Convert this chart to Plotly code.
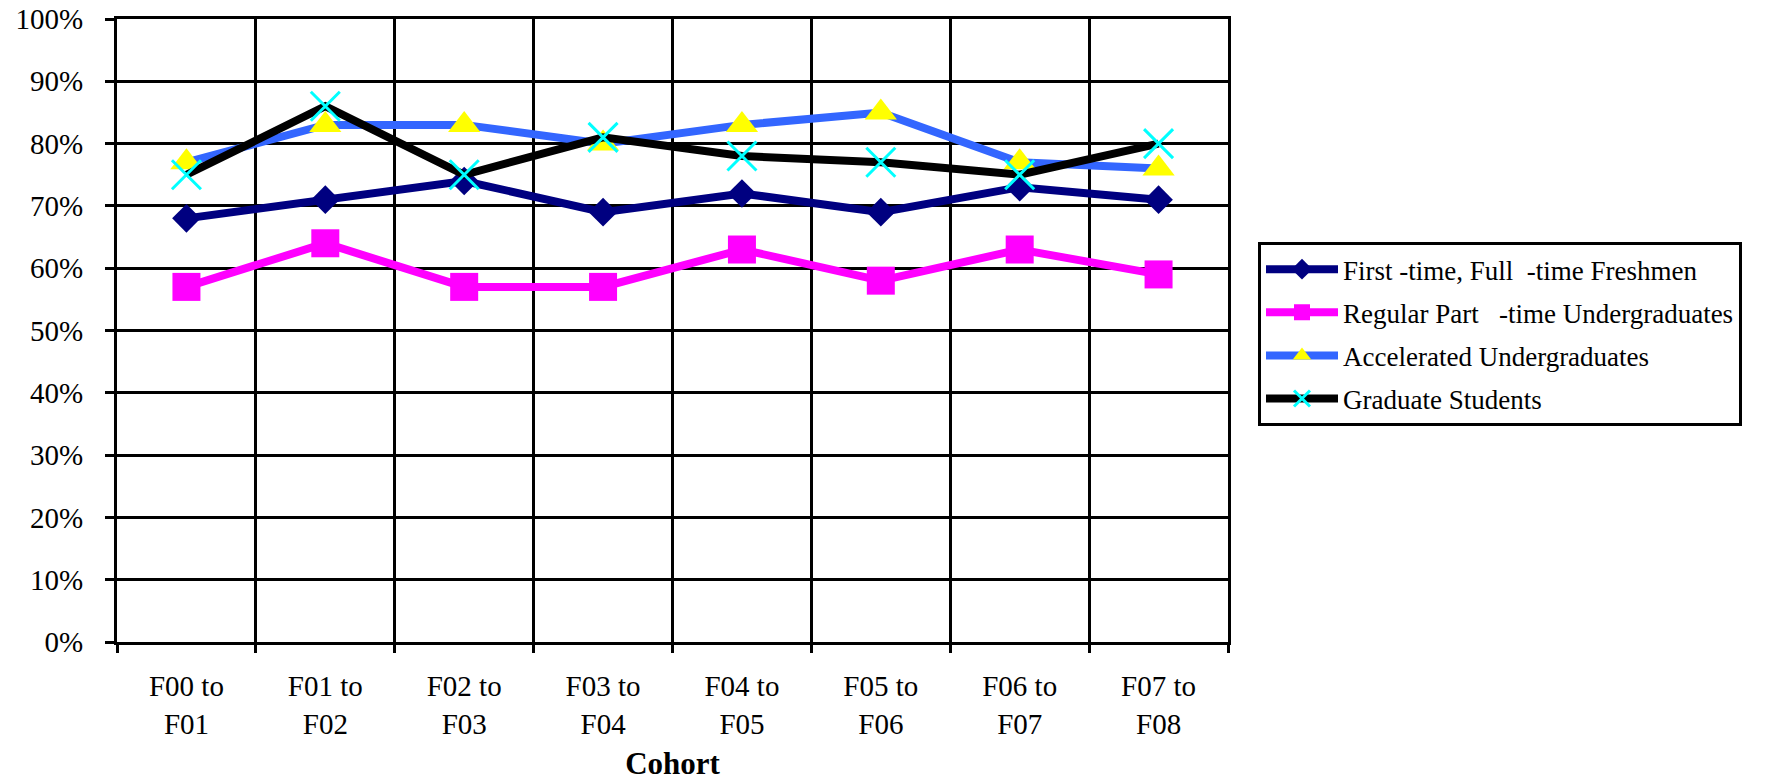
import plotly.graph_objects as go

categories = ["F00 to<br>F01", "F01 to<br>F02", "F02 to<br>F03", "F03 to<br>F04",
              "F04 to<br>F05", "F05 to<br>F06", "F06 to<br>F07", "F07 to<br>F08"]

freshmen = [68, 71, 74, 69, 72, 69, 73, 71]
part_time = [57, 64, 57, 57, 63, 58, 63, 59]
accelerated = [77, 83, 83, 80, 83, 85, 77, 76]
graduate = [75, 86, 75, 81, 78, 77, 75, 80]

y_ticks = [0, 10, 20, 30, 40, 50, 60, 70, 80, 90, 100]
y_tick_labels = ["0%", "10%", "20%", "30%", "40%", "50%", "60%", "70%", "80%", "90%", "100%"]

FONT = "Liberation Serif"

fig = go.Figure()

fig.add_trace(go.Scatter(
    x=categories, y=freshmen, mode="lines+markers",
    name="First -time, Full  -time Freshmen", legendgroup="a",
    line=dict(color="#000080", width=8),
    marker=dict(symbol="diamond", size=22, color="#000080", line=dict(width=0)),
))
fig.add_trace(go.Scatter(
    x=categories, y=part_time, mode="lines+markers",
    name="Regular Part   -time Undergraduates", legendgroup="b",
    line=dict(color="#FF00FF", width=8),
    marker=dict(symbol="square", size=28, color="#FF00FF", line=dict(width=0)),
))
fig.add_trace(go.Scatter(
    x=categories, y=accelerated, mode="lines+markers",
    name="Accelerated Undergraduates", legendgroup="c",
    line=dict(color="#3366FF", width=8),
    marker=dict(symbol="triangle-up", size=28, color="#FFFF00", line=dict(width=0)),
))
fig.add_trace(go.Scatter(
    x=categories, y=graduate, mode="lines+markers",
    name="Graduate Students", legendgroup="d",
    line=dict(color="#000000", width=8),
    marker=dict(symbol="x-thin", size=29, color="#00FFFF",
                line=dict(width=3, color="#00FFFF")),
))

fig.update_layout(
    width=1782, height=780,
    margin=dict(l=109, r=562, t=10.5, b=145.5, autoexpand=False),
    paper_bgcolor="white", plot_bgcolor="white",
    font=dict(family=FONT, color="black"),
    showlegend=True,
    legend=dict(
        x=(1258 - 117) / 1111, xanchor="left", y=(642.5 - 242) / 624, yanchor="top",
        bordercolor="black", borderwidth=3, bgcolor="white",
        font=dict(family=FONT, size=27, color="black"),
        tracegroupgap=5, itemwidth=72, traceorder="grouped",
    ),
    xaxis=dict(
        type="category", tickson="boundaries", automargin=False,
        showgrid=True, gridcolor="black", gridwidth=3,
        showline=True, linecolor="black", linewidth=3, mirror=True,
        ticks="outside", ticklen=8, tickwidth=3, tickcolor="black",
        tickfont=dict(family=FONT, size=29, color="black"),
        ticklabelstandoff=16,
        title=dict(text="<b>Cohort</b>", font=dict(family=FONT, size=31, color="black"),
                   standoff=14),
        range=[-0.5, 7.5],
    ),
    yaxis=dict(
        range=[0, 100], tickvals=y_ticks, ticktext=y_tick_labels, automargin=False,
        showgrid=True, gridcolor="black", gridwidth=3,
        showline=True, linecolor="black", linewidth=3, mirror=True,
        ticks="outside", ticklen=9, tickwidth=3, tickcolor="black",
        tickfont=dict(family=FONT, size=29, color="black"),
        ticklabelstandoff=16, ticklabeloverflow="allow", zeroline=False,
    ),
)

fig.write_html("out.html")
